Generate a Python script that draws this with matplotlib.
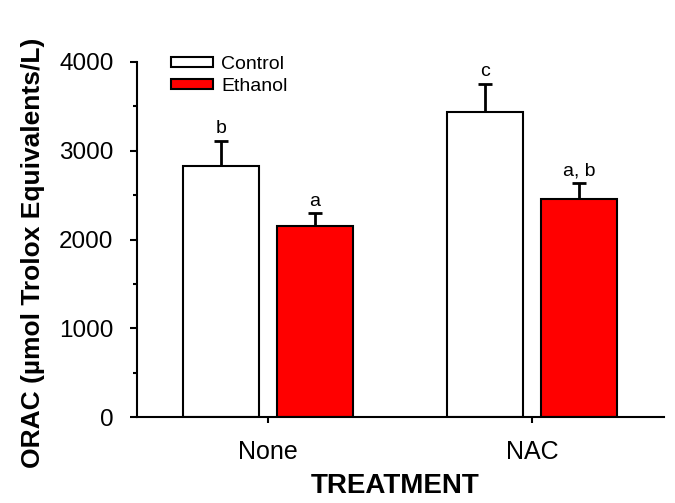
import matplotlib
matplotlib.use("Agg")
import matplotlib.pyplot as plt
import numpy as np
from matplotlib.ticker import MultipleLocator

plt.rcParams['font.family'] = ['Liberation Sans', 'DejaVu Sans']

treatments = ["None", "NAC"]
series = ["Control", "Ethanol"]
control_vals = [2830, 3440]
control_err = [280, 312]
ethanol_vals = [2152, 2453]
ethanol_err = [143, 180]
control_labels = ["b", "c"]
ethanol_labels = ["a", "a, b"]

fig = plt.figure(figsize=(6.75, 5.03), dpi=100)
ax = fig.add_axes([137 / 675, 1 - 417 / 503, (664 - 137) / 675, (417 - 62) / 503])

x = np.arange(len(treatments))
w = 0.288
off = 0.178
ax.bar(x - off, control_vals, w, color="white", edgecolor="black", linewidth=1.5,
       label=series[0], zorder=2)
ax.bar(x + off, ethanol_vals, w, color="#ff0000", edgecolor="black", linewidth=1.5,
       label=series[1], zorder=2)

for xs, vals, errs, labs in [(x - off, control_vals, control_err, control_labels),
                             (x + off, ethanol_vals, ethanol_err, ethanol_labels)]:
    eb = ax.errorbar(xs, vals, yerr=[np.zeros(len(vals)), errs], fmt="none", ecolor="black",
                     elinewidth=2, capsize=4.7, capthick=2, zorder=3, clip_on=False)
    eb[1][0].set_visible(False)
    for xi, v, e, l in zip(xs, vals, errs, labs):
        ax.text(xi, v + e + 40, l, ha="center", va="bottom", fontsize=14, clip_on=False)

ax.set_xlim(-0.496, 1.5)
ax.set_ylim(0, 4000)
ax.set_xticks(x)
ax.set_xticklabels(treatments, fontsize=18)
ax.yaxis.set_major_locator(MultipleLocator(1000))
ax.yaxis.set_minor_locator(MultipleLocator(500))
ax.tick_params(axis="y", which="major", labelsize=17.5, length=5, width=1.5, direction="out", pad=12)
ax.tick_params(axis="y", which="minor", length=3, width=1.5, direction="out")
ax.tick_params(axis="x", which="major", length=4.5, width=1.5, direction="out", pad=12)
for s in ["top", "right"]:
    ax.spines[s].set_visible(False)
for s in ["left", "bottom"]:
    ax.spines[s].set_linewidth(1.5)

ax.set_xlabel("TREATMENT", fontsize=20, fontweight="bold")
ax.xaxis.set_label_coords(0.489, -0.158)
ax.set_ylabel("ORAC (µmol Trolox Equivalents/L)", fontsize=19, fontweight="bold")
ax.yaxis.set_label_coords(-0.174, 0.462)

leg = ax.legend(loc="upper left", bbox_to_anchor=((171 - 137) / 527, 1.0 + 6 / 355),
                frameon=False, fontsize=14, borderaxespad=0, borderpad=0,
                handlelength=2.15, handleheight=0.46, handletextpad=0.42, labelspacing=0.25)

fig.savefig("out.png", dpi=100)
